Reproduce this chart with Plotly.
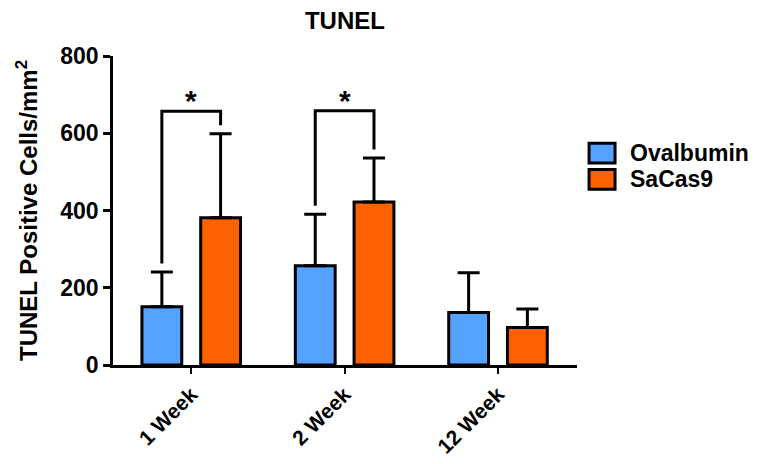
import plotly.graph_objects as go

categories = ["1 Week", "2 Week", "12 Week"]
series_names = ["Ovalbumin", "SaCas9"]
ovalbumin_mean = [151, 257, 136]
ovalbumin_err = [90, 133, 103]
sacas9_mean = [381, 422, 97]
sacas9_err = [218, 114, 48]
sig_pairs = [0, 1]          # category indices with significance brackets
sig_bracket_y = [657, 658]
sig_labels = ["*", "*"]

colors = ["#55A1FF", "#FF6100"]
FONT = "Arial, 'Liberation Sans', sans-serif"
BARGAP = 0.234
BARGROUPGAP = 0.322

fig = go.Figure()
for name, mean, err, col in [(series_names[0], ovalbumin_mean, ovalbumin_err, colors[0]),
                             (series_names[1], sacas9_mean, sacas9_err, colors[1])]:
    fig.add_trace(go.Bar(
        x=categories, y=mean, name=name,
        marker=dict(color=col, line=dict(color="black", width=3)),
        error_y=dict(type="data", array=err, arrayminus=[0] * len(err), symmetric=False,
                     color="black", thickness=3, width=11),
        showlegend=False,
    ))

# significance brackets
off = (1 - BARGAP) / 4
tops_a = [m + e for m, e in zip(ovalbumin_mean, ovalbumin_err)]
tops_b = [m + e for m, e in zip(sacas9_mean, sacas9_err)]
for i, yb, lab in zip(sig_pairs, sig_bracket_y, sig_labels):
    xa, xb = i - off, i + off
    fig.add_shape(type="path", xref="x", yref="y",
                  path=f"M {xa} {tops_a[i] + 22} L {xa} {yb} L {xb} {yb} L {xb} {tops_b[i] + 22}",
                  line=dict(color="black", width=3))
    fig.add_annotation(x=i, y=yb, xref="x", yref="y", text=f"<b>{lab}</b>", showarrow=False,
                       yanchor="bottom", yshift=-8, font=dict(family=FONT, size=30, color="black"))

# legend (manual, large boxes)
for k, (name, col) in enumerate(zip(series_names, colors)):
    y0 = 0.718 - k * 0.085
    fig.add_shape(type="rect", xref="paper", yref="paper",
                  x0=1.026, x1=1.082, y0=y0 - 0.064, y1=y0,
                  fillcolor=col, line=dict(color="black", width=3))
    fig.add_annotation(xref="paper", yref="paper", x=1.11, y=y0 - 0.032, text=f"<b>{name}</b>",
                       showarrow=False, xanchor="left", yanchor="middle",
                       font=dict(family=FONT, size=23, color="black"))

fig.update_layout(
    width=759, height=464,
    margin=dict(l=113, r=182, t=56, b=99),
    paper_bgcolor="white", plot_bgcolor="white",
    barmode="group", bargap=BARGAP, bargroupgap=BARGROUPGAP,
    title=dict(text="<b>TUNEL</b>", x=0.4545, xanchor="center", y=0.955, yanchor="middle",
               font=dict(family=FONT, size=24, color="black")),
    font=dict(family=FONT, color="black"),
)
fig.update_xaxes(
    range=[-0.51, 2.515], showline=True, linecolor="black", linewidth=2.5,
    ticks="outside", ticklen=6, tickwidth=2, tickcolor="black", tickangle=-45,
    tickfont=dict(family=FONT, size=21, color="black"),
    tickvals=categories, ticktext=[f"<b>{c}</b>" for c in categories],
    showgrid=False, zeroline=False, automargin=False,
)
fig.update_yaxes(
    range=[0, 800], tickvals=[0, 200, 400, 600, 800],
    ticktext=["<b>0</b>", "<b>200</b>", "<b>400</b>", "<b>600</b>", "<b>800</b>"],
    showline=True, linecolor="black", linewidth=2.5,
    ticks="outside", ticklen=7, tickwidth=2.5, tickcolor="black",
    tickfont=dict(family=FONT, size=23, color="black"),
    title=dict(text="<b>TUNEL Positive Cells/mm<sup>2</sup></b>", standoff=16,
               font=dict(family=FONT, size=24, color="black")),
    showgrid=False, zeroline=False, automargin=False,
)

fig.write_html("out.html")
